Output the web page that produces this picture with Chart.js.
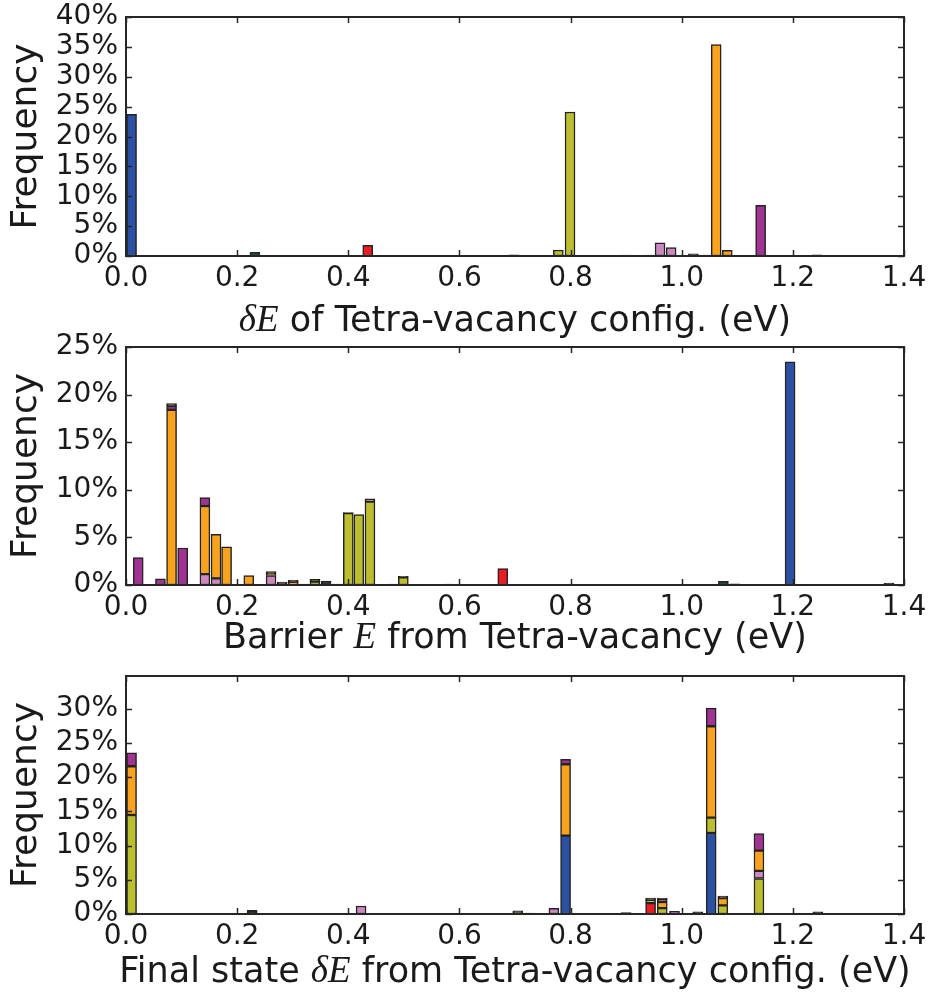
<!DOCTYPE html>
<html>
<head>
<meta charset="utf-8">
<script src="https://cdn.jsdelivr.net/npm/chart.js@4.4.0/dist/chart.umd.min.js"></script>
<style>
  body { margin: 0; background: #fff; }
  canvas { position: absolute; left: 0; }
</style>
</head>
<body>
<canvas id="cfgChart" width="931" height="345" style="top:0"></canvas>
<canvas id="barrierChart" width="931" height="345" style="top:330px"></canvas>
<canvas id="finalChart" width="931" height="341" style="top:659px"></canvas>
<script>
'use strict';

// ---- dE of tetra-vacancy configurations (bin centres in eV, frequencies in %)
const cfgBins   = [0.010, 0.232, 0.435, 0.698, 0.778, 0.799, 0.900, 0.940, 0.961, 0.981, 1.021, 1.041, 1.062, 1.082, 1.122, 1.142, 1.243];
const cfgBlue   = [23.7, 0, 0, 0, 0, 0, 0, 0, 0, 0, 0, 0, 0, 0, 0, 0, 0];
const cfgRed    = [0, 0, 1.8, 0, 0, 0, 0, 0, 0, 0, 0, 0, 0, 0, 0, 0, 0];
const cfgGreen  = [0, 0.6, 0, 0, 0, 0, 0, 0, 0, 0, 0, 0, 0, 0, 0, 0, 0];
const cfgYellow = [0, 0, 0, 0, 1.0, 24.1, 0, 0, 0, 0, 0, 0, 0, 0, 0, 0, 0];
const cfgPink   = [0, 0, 0, 0, 0, 0, 0, 0, 2.2, 1.4, 0, 0, 0, 0, 0, 0, 0];
const cfgOrange = [0, 0, 0, 0, 0, 0, 0, 0, 0, 0, 0, 0, 35.4, 0.95, 0, 0, 0];
const cfgPurple = [0, 0, 0, 0, 0, 0, 0, 0, 0, 0, 0, 0, 0, 0, 0, 8.5, 0];
const cfgDark   = [0, 0, 0, 0.2, 0, 0, 0.15, 0.15, 0, 0, 0.35, 0.15, 0, 0, 0.1, 0, 0.2];
const cfgPercentTicks = [0, 5, 10, 15, 20, 25, 30, 35, 40];

// ---- barrier energies out of the tetra-vacancy
const barBins   = [0.022, 0.062, 0.082, 0.102, 0.142, 0.162, 0.181, 0.221, 0.261, 0.281, 0.301, 0.321, 0.340, 0.360,
                   0.380, 0.400, 0.419, 0.439, 0.479, 0.499, 0.580, 0.678, 1.075, 1.095, 1.115, 1.195, 1.373];
const barBlue   = [0, 0, 0, 0, 0, 0, 0, 0, 0, 0, 0, 0, 0, 0, 0, 0, 0, 0, 0, 0, 0, 0, 0, 0, 0, 23.45, 0];
const barRed    = [0, 0, 0, 0, 0, 0, 0, 0, 0, 0, 0, 0, 0, 0, 0, 0, 0, 0, 0, 0, 0, 1.72, 0, 0, 0, 0, 0];
const barGreen  = [0, 0, 0, 0, 0, 0, 0, 0, 0, 0, 0, 0, 0, 0, 0, 0, 0, 0, 0, 0, 0, 0, 0.38, 0, 0, 0, 0];
const barYellow = [0, 0, 0, 0, 0, 0, 0, 0, 0, 0, 0, 0, 0.35, 0, 0, 7.55, 7.4, 8.75, 0, 0.8, 0, 0, 0, 0, 0, 0, 0];
const barPink   = [0, 0, 0, 0, 1.15, 0.7, 0, 0, 1.0, 0, 0, 0, 0, 0, 0, 0, 0, 0.3, 0, 0, 0, 0, 0, 0, 0.08, 0, 0];
const barOrange = [0, 0, 18.4, 0, 7.15, 4.62, 4.02, 1.0, 0.12, 0.1, 0.3, 0, 0, 0, 0, 0, 0, 0, 0, 0, 0, 0, 0, 0, 0, 0, 0];
const barPurple = [2.87, 0.66, 0.4, 3.89, 0.87, 0, 0, 0, 0, 0, 0, 0, 0, 0, 0, 0, 0, 0, 0, 0, 0, 0, 0, 0, 0, 0, 0];
const barDark   = [0, 0, 0.25, 0, 0, 0, 0, 0, 0.3, 0.2, 0.2, 0.1, 0.25, 0.42, 0.1, 0.05, 0, 0, 0.1, 0.1, 0.1, 0, 0, 0.12, 0, 0, 0.2];
const barPercentTicks = [0, 5, 10, 15, 20, 25];

// ---- final state dE reached from the tetra-vacancy
const finBins   = [0.010, 0.227, 0.423, 0.705, 0.726, 0.770, 0.791, 0.900, 0.944, 0.965, 0.987, 1.029, 1.053, 1.074,
                   1.095, 1.117, 1.139, 1.180, 1.245, 1.266];
const finBlue   = [0, 0, 0, 0, 0, 0, 11.46, 0, 0, 0, 0, 0, 11.85, 0, 0, 0, 0, 0, 0, 0];
const finRed    = [0, 0, 0, 0, 0, 0, 0, 0, 1.6, 0, 0, 0, 0, 0, 0, 0, 0, 0, 0, 0];
const finGreen  = [0, 0, 0, 0, 0, 0, 0, 0, 0, 0, 0, 0, 0, 0, 0, 0, 0, 0, 0, 0];
const finYellow = [14.47, 0, 0, 0.25, 0, 0, 0, 0, 0.44, 0.87, 0, 0, 2.25, 1.26, 0, 0, 5.19, 0, 0, 0];
const finPink   = [0, 0, 1.17, 0, 0, 0.82, 0, 0, 0, 0, 0, 0, 0, 0, 0.1, 0, 1.11, 0, 0, 0];
const finOrange = [7.13, 0, 0, 0, 0, 0, 10.44, 0, 0, 0.88, 0, 0, 13.35, 1.07, 0, 0, 2.97, 0, 0, 0];
const finPurple = [1.96, 0, 0, 0, 0, 0, 0.7, 0, 0, 0.44, 0.38, 0, 2.65, 0, 0, 0, 2.48, 0, 0, 0];
const finDark   = [0, 0.55, 0, 0.2, 0.15, 0, 0, 0.2, 0.29, 0.1, 0, 0.3, 0, 0.29, 0, 0.1, 0, 0.1, 0.3, 0.1];
const finPercentTicks = [0, 5, 10, 15, 20, 25, 30];

const energyTicks = [0.0, 0.2, 0.4, 0.6, 0.8, 1.0, 1.2, 1.4];

const palette = {
  blue: '#2b50a4', red: '#ec1c24', green: '#1d5c38', yellow: '#bcbe2f',
  pink: '#cc89c0', orange: '#f8a21d', purple: '#a13392', dark: '#352718'
};

const sansFont = '"DejaVu Sans", sans-serif';
const mathFont = '"Liberation Serif", "DejaVu Serif", serif';

function series(bins, values, color) {
  return {
    data: bins.map((x, i) => ({ x: x, y: values[i] > 0 ? values[i] : null })),
    backgroundColor: color,
    borderColor: '#232323',
    borderWidth: 1.5,
    borderSkipped: false,
    barThickness: 10
  };
}

// inward ticks on all four sides plus the box round the axes
const axesFrame = {
  id: 'axesFrame',
  afterDraw(chart) {
    const { ctx, chartArea: a, scales: { x, y } } = chart;
    const len = 6;
    ctx.save();
    ctx.strokeStyle = '#262626';
    ctx.lineWidth = 1.5;
    ctx.beginPath();
    x.ticks.forEach(t => {
      const px = Math.round(x.getPixelForValue(t.value)) + 0.5;
      ctx.moveTo(px, a.bottom); ctx.lineTo(px, a.bottom - len);
      ctx.moveTo(px, a.top); ctx.lineTo(px, a.top + len);
    });
    y.ticks.forEach(t => {
      const py = Math.round(y.getPixelForValue(t.value)) + 0.5;
      ctx.moveTo(a.left, py); ctx.lineTo(a.left + len, py);
      ctx.moveTo(a.right, py); ctx.lineTo(a.right - len, py);
    });
    ctx.stroke();
    ctx.lineWidth = 2;
    ctx.strokeRect(a.left, a.top, a.right - a.left, a.bottom - a.top);
    ctx.restore();
  }
};

// x axis caption with the maths part set in italic serif
const axisCaption = {
  id: 'axisCaption',
  afterDraw(chart, args, opts) {
    const { ctx, chartArea: a } = chart;
    const parts = opts.parts.map(p => ({
      text: p.text,
      font: p.math ? 'italic 37px ' + mathFont : '35px ' + sansFont
    }));
    ctx.save();
    ctx.fillStyle = '#1a1a1a';
    ctx.textBaseline = 'alphabetic';
    let total = 0;
    parts.forEach(p => { ctx.font = p.font; p.w = ctx.measureText(p.text).width; total += p.w; });
    let cx = (a.left + a.right) / 2 - total / 2;
    parts.forEach(p => {
      ctx.font = p.font;
      ctx.fillText(p.text, cx, opts.baseline);
      cx += p.w;
    });
    ctx.restore();
  }
};

function makeChart(id, bins, cols, yMax, yTicks, xAxisHeight, caption, baseline) {
  const order = ['blue', 'red', 'green', 'yellow', 'pink', 'orange', 'purple', 'dark'];
  return new Chart(document.getElementById(id), {
    type: 'bar',
    data: { datasets: order.map((k, i) => series(bins, cols[i], palette[k])) },
    options: {
      responsive: false,
      animation: false,
      layout: { padding: { top: 17, right: 27, left: 0, bottom: 0 } },
      plugins: {
        legend: { display: false },
        tooltip: { enabled: false },
        axisCaption: { parts: caption, baseline: baseline }
      },
      scales: {
        x: {
          type: 'linear',
          stacked: true,
          offset: false,
          min: 0, max: 1.4,
          afterBuildTicks: s => { s.ticks = energyTicks.map(v => ({ value: v })); },
          afterFit: s => {
            s.height = xAxisHeight;
            s.paddingLeft = 0; s.paddingRight = 0;
          },
          grid: { display: false, drawTicks: false, offset: false },
          border: { display: false },
          ticks: {
            padding: 6,
            autoSkip: false,
            color: '#1a1a1a',
            font: { family: sansFont, size: 28 },
            maxRotation: 0,
            callback: v => Number(v).toFixed(1)
          }
        },
        y: {
          stacked: true,
          min: 0, max: yMax,
          afterBuildTicks: s => { s.ticks = yTicks.map(v => ({ value: v })); },
          afterFit: s => {
            s.width = 126;
            s.paddingTop = 0; s.paddingBottom = 0;
          },
          grid: { display: false, drawTicks: false },
          border: { display: false },
          title: {
            display: true,
            text: 'Frequency',
            color: '#1a1a1a',
            font: { family: sansFont, size: 36 },
            padding: { top: 5, bottom: 0 }
          },
          ticks: {
            padding: 8,
            autoSkip: false,
            color: '#1a1a1a',
            font: { family: sansFont, size: 28 },
            callback: v => v + '%'
          }
        }
      }
    },
    plugins: [axesFrame, axisCaption]
  });
}

makeChart('cfgChart', cfgBins,
  [cfgBlue, cfgRed, cfgGreen, cfgYellow, cfgPink, cfgOrange, cfgPurple, cfgDark],
  40, cfgPercentTicks, 89,
  [{ text: '\u03B4E', math: true }, { text: ' of Tetra-vacancy config. (eV)' }], 331);

makeChart('barrierChart', barBins,
  [barBlue, barRed, barGreen, barYellow, barPink, barOrange, barPurple, barDark],
  25, barPercentTicks, 90,
  [{ text: 'Barrier ' }, { text: 'E', math: true }, { text: ' from Tetra-vacancy (eV)' }], 318);

makeChart('finalChart', finBins,
  [finBlue, finRed, finGreen, finYellow, finPink, finOrange, finPurple, finDark],
  34.8, finPercentTicks, 86,
  [{ text: 'Final state ' }, { text: '\u03B4E', math: true }, { text: ' from Tetra-vacancy config. (eV)' }], 323);
</script>
</body>
</html>
